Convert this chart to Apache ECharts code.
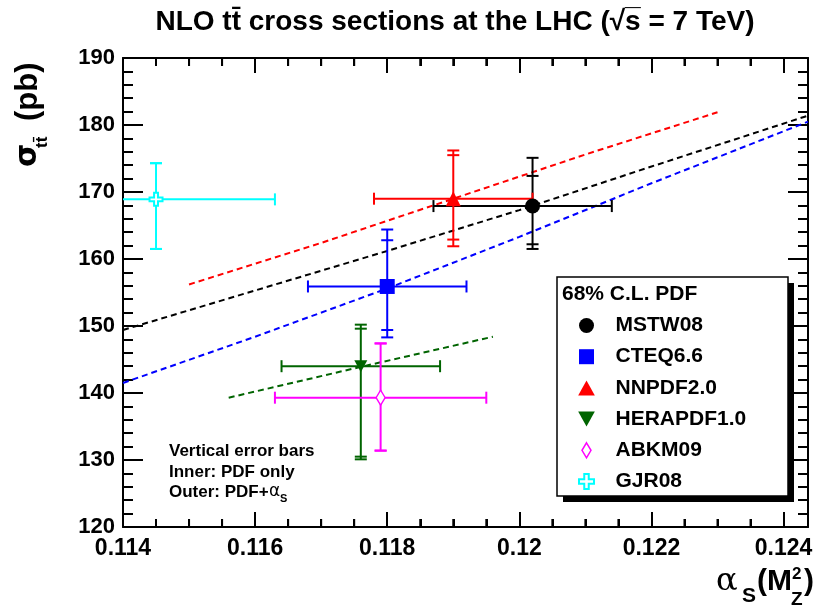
<!DOCTYPE html>
<html><head><meta charset="utf-8">
<script src="https://cdn.jsdelivr.net/npm/echarts@6/dist/echarts.min.js"></script>
<style>html,body{margin:0;padding:0;background:#fff}#c{width:815px;height:612px}</style>
</head><body><div id="c"></div>
<script>
// ---------------- data ----------------
const pdfNames = ['MSTW08', 'CTEQ6.6', 'NNPDF2.0', 'HERAPDF1.0', 'ABKM09', 'GJR08'];
const alphaS     = [0.1202, 0.1180, 0.1190, 0.1176, 0.1179, 0.1145];
const alphaSLow  = [0.1187, 0.1168, 0.1178, 0.1164, 0.1163, 0.1127];
const alphaSHigh = [0.1214, 0.1192, 0.1202, 0.1188, 0.1195, 0.1163];
const sigma          = [167.9, 155.9, 169.0, 144.0, 139.3, 168.9];
const sigmaInnerLow  = [162.2, 149.4, 162.9, 130.5, 131.4, 161.5];
const sigmaInnerHigh = [172.4, 162.8, 175.5, 149.6, 147.4, 174.3];
const sigmaOuterLow  = [161.5, 148.3, 161.9, 130.1, 131.4, 161.5];
const sigmaOuterHigh = [175.1, 164.4, 176.2, 150.2, 147.4, 174.3];

// alpha_s dependence curves (dashed)
const mstwCurveA  = [0.114, 0.116, 0.118, 0.120, 0.122, 0.12437];
const mstwCurveS  = [149.4, 155.3, 161.2, 167.3, 173.8, 181.4];
const cteqCurveA  = [0.114, 0.116, 0.118, 0.120, 0.122, 0.12437];
const cteqCurveS  = [141.5, 148.4, 155.6, 163.3, 171.3, 180.5];
const nnpdfCurveA = [0.115, 0.117, 0.119, 0.121, 0.123];
const nnpdfCurveS = [156.2, 162.4, 169.0, 175.6, 181.9];
const heraCurveA  = [0.1156, 0.1176, 0.1196];
const heraCurveS  = [139.3, 143.9, 148.4];

// axis ranges / ticks
const xMin = 0.114, xMax = 0.12437, xMajor = 0.002, xMinorSplit = 4;
const xMinorTicks = [0.1145, 0.115, 0.1155, 0.1165, 0.117, 0.1175, 0.1185, 0.119, 0.1195,
                     0.1205, 0.121, 0.1215, 0.1225, 0.123, 0.1235];
const yMin = 120, yMax = 190, yMajor = 10, yMinorSplit = 5;

// ---------------- style ----------------
const FONT = '"Liberation Sans", Arial, Helvetica, sans-serif';
const colors = ['#000000', '#0000ff', '#ff0000', '#006400', '#ff00ff', '#00ffff'];
const CROSS = 'path://M3.5,0 H6.5 V3.5 H10 V6.5 H6.5 V10 H3.5 V6.5 H0 V3.5 H3.5 Z';
const symbols = ['circle', 'rect', 'triangle', 'path://M0,0 L10,0 L5,9 Z', 'diamond', CROSS];
const symbolSizes = [15, 15, 15, [13, 12], [9, 15], 13];
const symStyles = [
  {color: '#000', opacity: 1}, {color: '#0000ff', opacity: 1}, {color: '#ff0000', opacity: 1},
  {color: '#006400', opacity: 1},
  {color: '#fff', borderColor: '#ff00ff', borderWidth: 1.5, opacity: 1},
  {color: '#fff', borderColor: '#00ffff', borderWidth: 2, opacity: 1}
];
const legendIcons = ['circle', 'path://M0,0 H10 V10 H0 Z', 'path://M5,0 L10,9 L0,9 Z',
  'path://M0,0 L10,0 L5,9 Z', 'path://M4.5,0 L9,7.5 L4.5,15 L0,7.5 Z', CROSS];

function errRender(color) {
  return function (params, api) {
    const x = api.value(0), y = api.value(1);
    const c = api.coord([x, y]);
    const xl = api.coord([api.value(2), y])[0];
    const xh = api.coord([api.value(3), y])[0];
    const yil = api.coord([x, api.value(4)])[1];
    const yih = api.coord([x, api.value(5)])[1];
    const yol = api.coord([x, api.value(6)])[1];
    const yoh = api.coord([x, api.value(7)])[1];
    const st = {stroke: color, lineWidth: 2};
    const h = 6;
    const L = (x1, y1, x2, y2) => ({type: 'line', shape: {x1, y1, x2, y2}, style: st});
    return {type: 'group', children: [
      L(xl, c[1], xh, c[1]),
      L(xl, c[1] - h, xl, c[1] + h),
      L(xh, c[1] - h, xh, c[1] + h),
      L(c[0], yol, c[0], yoh),
      L(c[0] - h, yol, c[0] + h, yol),
      L(c[0] - h, yoh, c[0] + h, yoh),
      L(c[0] - h, yil, c[0] + h, yil),
      L(c[0] - h, yih, c[0] + h, yih)
    ]};
  };
}

const series = [];
const curves = [[mstwCurveA, mstwCurveS, 0], [nnpdfCurveA, nnpdfCurveS, 2], [cteqCurveA, cteqCurveS, 1], [heraCurveA, heraCurveS, 3]];
curves.forEach(([a, s, ci]) => {
  series.push({
    type: 'line', name: pdfNames[ci] + ' curve', showSymbol: false, symbol: 'none', clip: true,
    data: a.map((v, i) => [v, s[i]]),
    lineStyle: {color: colors[ci], width: 2, type: [6, 4]}, silent: true, z: 2
  });
});
pdfNames.forEach((n, i) => {
  series.push({
    type: 'custom', name: n + ' err', clip: true, silent: true,
    renderItem: errRender(colors[i]),
    encode: {x: 0, y: 1},
    data: [[alphaS[i], sigma[i], alphaSLow[i], alphaSHigh[i], sigmaInnerLow[i], sigmaInnerHigh[i], sigmaOuterLow[i], sigmaOuterHigh[i]]],
    z: 3
  });
  series.push({
    type: 'scatter', name: n, symbol: symbols[i], symbolSize: symbolSizes[i],
    data: [[alphaS[i], sigma[i]]], itemStyle: symStyles[i], silent: true, z: 3
  });
});
// x minor ticks on bottom and top frame edges, placed through the x scale
series.push({
  type: 'custom', name: 'x minor ticks', silent: true, clip: false, z: 9,
  encode: {x: 0, y: 1},
  data: xMinorTicks.map(v => [v, 150]),
  renderItem: function (params, api) {
    const px = api.coord([api.value(0), 150])[0];
    const yb = api.coord([api.value(0), yMin])[1];
    const yt = api.coord([api.value(0), yMax])[1];
    const st = {stroke: '#000', lineWidth: 2};
    return {type: 'group', children: [
      {type: 'line', shape: {x1: px, y1: yb, x2: px, y2: yb - 8}, style: st},
      {type: 'line', shape: {x1: px, y1: yt, x2: px, y2: yt + 8}, style: st}
    ]};
  }
});

const fmtX = v => String(Math.round(v * 1000) / 1000);
const mkLine = () => ({show: true, lineStyle: {color: '#000', width: 2}});
const mkTickX = () => ({show: true, inside: true, length: 15, lineStyle: {color: '#000', width: 2}});
const mkMinorX = () => ({show: true, splitNumber: xMinorSplit, length: 8, lineStyle: {color: '#000', width: 2}});
const mkTickY = () => ({show: true, inside: true, length: 20, lineStyle: {color: '#000', width: 2}});
const mkMinorY = () => ({show: true, splitNumber: yMinorSplit, length: 10, lineStyle: {color: '#000', width: 2}});

const option = {
  animation: false,
  backgroundColor: '#fff',
  grid: {outerBoundsMode: 'none', containLabel: false, left: 123, right: 7, top: 58, bottom: 85},
  xAxis: [
    {type: 'value', position: 'bottom', min: xMin, max: xMax, interval: xMajor,
     axisLine: mkLine(), axisTick: mkTickX(), minorTick: mkMinorX(),
     axisLabel: {show: true, showMaxLabel: false, formatter: fmtX, color: '#000', fontFamily: FONT,
                 fontWeight: 'bold', fontSize: 23, margin: 10}, splitLine: {show: false}},
    {type: 'value', position: 'top', min: xMin, max: xMax, interval: xMajor,
     axisLine: mkLine(), axisTick: mkTickX(), minorTick: mkMinorX(), axisLabel: {show: false}, splitLine: {show: false}}
  ],
  yAxis: [
    {type: 'value', position: 'left', min: yMin, max: yMax, interval: yMajor,
     axisLine: mkLine(), axisTick: mkTickY(), minorTick: mkMinorY(),
     axisLabel: {color: '#000', fontFamily: FONT, fontWeight: 'bold', fontSize: 22, margin: 8},
     splitLine: {show: false}},
    {type: 'value', position: 'right', min: yMin, max: yMax, interval: yMajor,
     axisLine: mkLine(), axisTick: mkTickY(), minorTick: mkMinorY(),
     axisLabel: {show: false}, splitLine: {show: false}}
  ],
  legend: {
    orient: 'vertical', left: 572, top: 278, padding: [37, 10, 6, 6],
    itemWidth: 48, itemHeight: 15, itemGap: 10.2, selectedMode: false, z: 20,
    textStyle: {fontFamily: FONT, fontWeight: 'bold', fontSize: 21, color: '#000', lineHeight: 20},
    data: pdfNames.map((n, i) => ({name: n, icon: legendIcons[i], itemStyle: symStyles[i]}))
  },
  graphic: [
    {type: 'rect', z: 10, shape: {x: 563, y: 283, width: 231, height: 219}, style: {fill: '#000'}, silent: true},
    {type: 'rect', z: 11, shape: {x: 557, y: 277, width: 231, height: 219}, style: {fill: '#fff', stroke: '#000', lineWidth: 1.5}, silent: true},
    {type: 'text', z: 12, x: 562, y: 294, style: {text: '68% C.L. PDF', font: 'bold 21px ' + FONT, fill: '#000', verticalAlign: 'middle'}},
    // title
    {type: 'text', z: 12, x: 455, y: 22, style: {text: 'NLO tt\u0304 cross sections at the LHC (\u221As\u0305 = 7 TeV)', font: 'bold 28px ' + FONT, fill: '#000', align: 'center', verticalAlign: 'middle'}},
    // note
    {type: 'text', z: 12, x: 169, y: 451, style: {text: 'Vertical error bars', font: 'bold 17px ' + FONT, fill: '#000', verticalAlign: 'middle'}},
    {type: 'text', z: 12, x: 169, y: 472, style: {text: 'Inner: PDF only', font: 'bold 17px ' + FONT, fill: '#000', verticalAlign: 'middle'}},
    {type: 'text', z: 12, x: 169, y: 492, style: {text: 'Outer: PDF+', font: 'bold 17px ' + FONT, fill: '#000', verticalAlign: 'middle'}},
    {type: 'text', z: 12, x: 269, y: 492, style: {text: '\u03B1', font: '17px "DejaVu Sans", sans-serif', fill: '#000', verticalAlign: 'middle'}},
    {type: 'text', z: 12, x: 280, y: 499, style: {text: 'S', font: 'bold 11px ' + FONT, fill: '#000', verticalAlign: 'middle'}},
    // y title (rotated)
    {type: 'group', x: 38, y: 167, rotation: Math.PI / 2, children: [
      {type: 'text', x: 0, y: -10, style: {text: '\u03C3', font: 'bold 30px "DejaVu Sans", sans-serif', fill: '#000', verticalAlign: 'middle'}},
      {type: 'text', x: 19, y: 4, style: {text: 'tt\u0304', font: 'bold 17px ' + FONT, fill: '#000', verticalAlign: 'middle'}},
      {type: 'text', x: 46, y: -10, style: {text: '(pb)', font: 'bold 31px ' + FONT, fill: '#000', verticalAlign: 'middle'}}
    ]},
    // x title
    {type: 'text', z: 12, x: 716, y: 582, style: {text: '\u03B1', font: '32px "DejaVu Serif", serif', fill: '#000', verticalAlign: 'middle'}},
    {type: 'text', z: 12, x: 742, y: 596, style: {text: 'S', font: 'bold 21px ' + FONT, fill: '#000', verticalAlign: 'middle'}},
    {type: 'text', z: 12, x: 757, y: 582, style: {text: '(M', font: 'bold 30px ' + FONT, fill: '#000', verticalAlign: 'middle'}},
    {type: 'text', z: 12, x: 792, y: 574, style: {text: '2', font: 'bold 17px ' + FONT, fill: '#000', verticalAlign: 'middle'}},
    {type: 'text', z: 12, x: 791, y: 600, style: {text: 'Z', font: 'bold 19px ' + FONT, fill: '#000', verticalAlign: 'middle'}},
    {type: 'text', z: 12, x: 804, y: 582, style: {text: ')', font: 'bold 30px ' + FONT, fill: '#000', verticalAlign: 'middle'}}
  ],
  series: series
};
const chart = echarts.init(document.getElementById('c'), null, {renderer: 'canvas'});
chart.setOption(option);
</script></body></html>
